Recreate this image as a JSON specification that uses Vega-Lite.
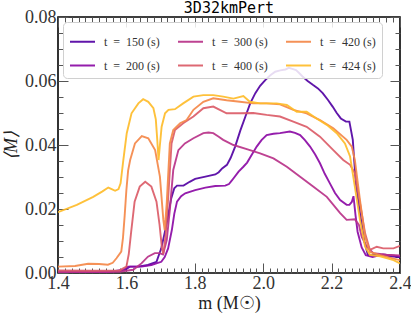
{
  "$schema": "https://vega.github.io/schema/vega-lite/v6.json",
  "width": 342,
  "height": 256,
  "autosize": "none",
  "padding": {"left": 58, "top": 17, "right": 11, "bottom": 42},
  "title": {"text": "3D32kmPert", "font": "DejaVu Sans Mono", "fontSize": 15, "fontWeight": "normal", "offset": -8, "color": "black"},
  "config": {
    "view": {"stroke": "black", "strokeWidth": 1.6},
    "axis": {"domain": false, "grid": false, "tickColor": "#555", "tickWidth": 1}
  },
  "data": {"values": [
    {"t":"150","m":1.40,"v":0.0005},{"t":"150","m":1.50,"v":0.0005},{"t":"150","m":1.58,"v":0.0006},{"t":"150","m":1.595,"v":0.0009},{"t":"150","m":1.61,"v":0.002},{"t":"150","m":1.634,"v":0.002},{"t":"150","m":1.663,"v":0.0025},{"t":"150","m":1.688,"v":0.0035},{"t":"150","m":1.702,"v":0.0077},{"t":"150","m":1.717,"v":0.015},{"t":"150","m":1.731,"v":0.0233},{"t":"150","m":1.740,"v":0.0265},{"t":"150","m":1.748,"v":0.0273},{"t":"150","m":1.767,"v":0.0273},{"t":"150","m":1.785,"v":0.0285},{"t":"150","m":1.801,"v":0.0294},{"t":"150","m":1.831,"v":0.0301},{"t":"150","m":1.860,"v":0.0308},{"t":"150","m":1.870,"v":0.0315},{"t":"150","m":1.880,"v":0.0327},{"t":"150","m":1.894,"v":0.0338},{"t":"150","m":1.905,"v":0.036},{"t":"150","m":1.918,"v":0.0395},{"t":"150","m":1.933,"v":0.0445},{"t":"150","m":1.948,"v":0.0489},{"t":"150","m":1.962,"v":0.053},{"t":"150","m":1.977,"v":0.0562},{"t":"150","m":1.991,"v":0.0585},{"t":"150","m":2.006,"v":0.0603},{"t":"150","m":2.020,"v":0.0617},{"t":"150","m":2.035,"v":0.0629},{"t":"150","m":2.050,"v":0.0633},{"t":"150","m":2.065,"v":0.0636},{"t":"150","m":2.075,"v":0.0641},{"t":"150","m":2.085,"v":0.0638},{"t":"150","m":2.096,"v":0.0634},{"t":"150","m":2.105,"v":0.0625},{"t":"150","m":2.115,"v":0.0614},{"t":"150","m":2.130,"v":0.0600},{"t":"150","m":2.145,"v":0.0588},{"t":"150","m":2.160,"v":0.0577},{"t":"150","m":2.174,"v":0.0562},{"t":"150","m":2.190,"v":0.0540},{"t":"150","m":2.203,"v":0.052},{"t":"150","m":2.215,"v":0.050},{"t":"150","m":2.227,"v":0.0483},{"t":"150","m":2.242,"v":0.0473},{"t":"150","m":2.252,"v":0.0473},{"t":"150","m":2.262,"v":0.0416},{"t":"150","m":2.266,"v":0.0353},{"t":"150","m":2.271,"v":0.028},{"t":"150","m":2.281,"v":0.0202},{"t":"150","m":2.296,"v":0.0098},{"t":"150","m":2.306,"v":0.0056},{"t":"150","m":2.339,"v":0.0058},{"t":"150","m":2.37,"v":0.0052},{"t":"150","m":2.40,"v":0.0050},
    {"t":"200","m":1.40,"v":0.0003},{"t":"200","m":1.55,"v":0.0003},{"t":"200","m":1.59,"v":0.001},{"t":"200","m":1.605,"v":0.002},{"t":"200","m":1.644,"v":0.002},{"t":"200","m":1.673,"v":0.0025},{"t":"200","m":1.702,"v":0.0035},{"t":"200","m":1.712,"v":0.005},{"t":"200","m":1.722,"v":0.0077},{"t":"200","m":1.733,"v":0.0135},{"t":"200","m":1.740,"v":0.0185},{"t":"200","m":1.748,"v":0.0223},{"t":"200","m":1.760,"v":0.024},{"t":"200","m":1.772,"v":0.0249},{"t":"200","m":1.801,"v":0.0259},{"t":"200","m":1.831,"v":0.0267},{"t":"200","m":1.860,"v":0.0272},{"t":"200","m":1.889,"v":0.0273},{"t":"200","m":1.900,"v":0.0278},{"t":"200","m":1.909,"v":0.029},{"t":"200","m":1.928,"v":0.0317},{"t":"200","m":1.942,"v":0.0332},{"t":"200","m":1.953,"v":0.0345},{"t":"200","m":1.967,"v":0.037},{"t":"200","m":1.981,"v":0.0395},{"t":"200","m":1.995,"v":0.0415},{"t":"200","m":2.010,"v":0.0431},{"t":"200","m":2.030,"v":0.0435},{"t":"200","m":2.049,"v":0.0437},{"t":"200","m":2.078,"v":0.0442},{"t":"200","m":2.093,"v":0.0438},{"t":"200","m":2.108,"v":0.0431},{"t":"200","m":2.122,"v":0.0415},{"t":"200","m":2.137,"v":0.0395},{"t":"200","m":2.152,"v":0.037},{"t":"200","m":2.166,"v":0.0343},{"t":"200","m":2.180,"v":0.031},{"t":"200","m":2.195,"v":0.028},{"t":"200","m":2.210,"v":0.025},{"t":"200","m":2.225,"v":0.0228},{"t":"200","m":2.244,"v":0.0213},{"t":"200","m":2.252,"v":0.0213},{"t":"200","m":2.259,"v":0.0222},{"t":"200","m":2.264,"v":0.024},{"t":"200","m":2.270,"v":0.018},{"t":"200","m":2.276,"v":0.0129},{"t":"200","m":2.288,"v":0.008},{"t":"200","m":2.300,"v":0.0056},{"t":"200","m":2.320,"v":0.0050},{"t":"200","m":2.350,"v":0.0058},{"t":"200","m":2.375,"v":0.0055},{"t":"200","m":2.40,"v":0.0052},
    {"t":"300","m":1.40,"v":0.0003},{"t":"300","m":1.58,"v":0.0004},{"t":"300","m":1.62,"v":0.001},{"t":"300","m":1.644,"v":0.003},{"t":"300","m":1.663,"v":0.0051},{"t":"300","m":1.683,"v":0.0062},{"t":"300","m":1.697,"v":0.0062},{"t":"300","m":1.707,"v":0.0058},{"t":"300","m":1.718,"v":0.0103},{"t":"300","m":1.727,"v":0.0197},{"t":"300","m":1.737,"v":0.0322},{"t":"300","m":1.752,"v":0.0384},{"t":"300","m":1.771,"v":0.0405},{"t":"300","m":1.796,"v":0.0421},{"t":"300","m":1.825,"v":0.0437},{"t":"300","m":1.840,"v":0.0439},{"t":"300","m":1.854,"v":0.0437},{"t":"300","m":1.870,"v":0.0426},{"t":"300","m":1.883,"v":0.0416},{"t":"300","m":1.913,"v":0.040},{"t":"300","m":1.952,"v":0.0387},{"t":"300","m":1.991,"v":0.0374},{"t":"300","m":2.030,"v":0.0358},{"t":"300","m":2.069,"v":0.0332},{"t":"300","m":2.108,"v":0.0301},{"t":"300","m":2.146,"v":0.027},{"t":"300","m":2.186,"v":0.0238},{"t":"300","m":2.225,"v":0.0187},{"t":"300","m":2.244,"v":0.0166},{"t":"300","m":2.268,"v":0.0168},{"t":"300","m":2.280,"v":0.015},{"t":"300","m":2.288,"v":0.0113},{"t":"300","m":2.303,"v":0.0082},{"t":"300","m":2.322,"v":0.0062},{"t":"300","m":2.36,"v":0.0057},{"t":"300","m":2.40,"v":0.0055},
    {"t":"400","m":1.40,"v":0.0008},{"t":"400","m":1.50,"v":0.0007},{"t":"400","m":1.58,"v":0.0008},{"t":"400","m":1.60,"v":0.002},{"t":"400","m":1.607,"v":0.006},{"t":"400","m":1.614,"v":0.0129},{"t":"400","m":1.624,"v":0.0223},{"t":"400","m":1.639,"v":0.027},{"t":"400","m":1.655,"v":0.0285},{"t":"400","m":1.673,"v":0.027},{"t":"400","m":1.688,"v":0.0223},{"t":"400","m":1.697,"v":0.015},{"t":"400","m":1.704,"v":0.0077},{"t":"400","m":1.708,"v":0.006},{"t":"400","m":1.715,"v":0.012},{"t":"400","m":1.723,"v":0.0249},{"t":"400","m":1.732,"v":0.0405},{"t":"400","m":1.742,"v":0.0447},{"t":"400","m":1.766,"v":0.0468},{"t":"400","m":1.796,"v":0.0489},{"t":"400","m":1.825,"v":0.0515},{"t":"400","m":1.854,"v":0.052},{"t":"400","m":1.893,"v":0.0499},{"t":"400","m":1.932,"v":0.0499},{"t":"400","m":1.971,"v":0.050},{"t":"400","m":2.010,"v":0.0494},{"t":"400","m":2.049,"v":0.0489},{"t":"400","m":2.088,"v":0.0473},{"t":"400","m":2.127,"v":0.0457},{"t":"400","m":2.166,"v":0.0426},{"t":"400","m":2.205,"v":0.0384},{"t":"400","m":2.234,"v":0.0353},{"t":"400","m":2.254,"v":0.0338},{"t":"400","m":2.268,"v":0.0312},{"t":"400","m":2.283,"v":0.0218},{"t":"400","m":2.298,"v":0.0124},{"t":"400","m":2.312,"v":0.0072},{"t":"400","m":2.332,"v":0.0082},{"t":"400","m":2.351,"v":0.0077},{"t":"400","m":2.381,"v":0.0077},{"t":"400","m":2.40,"v":0.0085},
    {"t":"420","m":1.40,"v":0.002},{"t":"420","m":1.45,"v":0.0022},{"t":"420","m":1.488,"v":0.0029},{"t":"420","m":1.52,"v":0.0028},{"t":"420","m":1.546,"v":0.0026},{"t":"420","m":1.56,"v":0.0032},{"t":"420","m":1.571,"v":0.0046},{"t":"420","m":1.585,"v":0.0067},{"t":"420","m":1.590,"v":0.011},{"t":"420","m":1.595,"v":0.018},{"t":"420","m":1.600,"v":0.026},{"t":"420","m":1.605,"v":0.032},{"t":"420","m":1.611,"v":0.0353},{"t":"420","m":1.625,"v":0.0405},{"t":"420","m":1.645,"v":0.0428},{"t":"420","m":1.664,"v":0.0421},{"t":"420","m":1.684,"v":0.0384},{"t":"420","m":1.698,"v":0.0301},{"t":"420","m":1.708,"v":0.0166},{"t":"420","m":1.712,"v":0.0134},{"t":"420","m":1.718,"v":0.022},{"t":"420","m":1.727,"v":0.0405},{"t":"420","m":1.737,"v":0.0447},{"t":"420","m":1.757,"v":0.0468},{"t":"420","m":1.776,"v":0.0478},{"t":"420","m":1.796,"v":0.051},{"t":"420","m":1.825,"v":0.0535},{"t":"420","m":1.854,"v":0.0546},{"t":"420","m":1.893,"v":0.054},{"t":"420","m":1.932,"v":0.0535},{"t":"420","m":1.971,"v":0.053},{"t":"420","m":2.010,"v":0.053},{"t":"420","m":2.049,"v":0.0527},{"t":"420","m":2.088,"v":0.051},{"t":"420","m":2.127,"v":0.0499},{"t":"420","m":2.166,"v":0.0478},{"t":"420","m":2.205,"v":0.0452},{"t":"420","m":2.244,"v":0.0416},{"t":"420","m":2.259,"v":0.0395},{"t":"420","m":2.268,"v":0.0353},{"t":"420","m":2.283,"v":0.0228},{"t":"420","m":2.298,"v":0.0113},{"t":"420","m":2.312,"v":0.0066},{"t":"420","m":2.342,"v":0.0056},{"t":"420","m":2.381,"v":0.0045},{"t":"420","m":2.40,"v":0.004},
    {"t":"424","m":1.40,"v":0.019},{"t":"424","m":1.455,"v":0.0213},{"t":"424","m":1.503,"v":0.0238},{"t":"424","m":1.530,"v":0.0255},{"t":"424","m":1.547,"v":0.0267},{"t":"424","m":1.557,"v":0.0262},{"t":"424","m":1.567,"v":0.0257},{"t":"424","m":1.577,"v":0.0262},{"t":"424","m":1.583,"v":0.028},{"t":"424","m":1.591,"v":0.0353},{"t":"424","m":1.601,"v":0.0437},{"t":"424","m":1.615,"v":0.0499},{"t":"424","m":1.635,"v":0.053},{"t":"424","m":1.649,"v":0.0543},{"t":"424","m":1.664,"v":0.0535},{"t":"424","m":1.679,"v":0.0515},{"t":"424","m":1.686,"v":0.048},{"t":"424","m":1.690,"v":0.042},{"t":"424","m":1.694,"v":0.0353},{"t":"424","m":1.698,"v":0.040},{"t":"424","m":1.703,"v":0.0457},{"t":"424","m":1.713,"v":0.0499},{"t":"424","m":1.723,"v":0.051},{"t":"424","m":1.742,"v":0.0512},{"t":"424","m":1.766,"v":0.053},{"t":"424","m":1.796,"v":0.0551},{"t":"424","m":1.825,"v":0.0556},{"t":"424","m":1.854,"v":0.0556},{"t":"424","m":1.883,"v":0.0551},{"t":"424","m":1.913,"v":0.0545},{"t":"424","m":1.942,"v":0.0553},{"t":"424","m":1.961,"v":0.0535},{"t":"424","m":1.991,"v":0.053},{"t":"424","m":2.039,"v":0.053},{"t":"424","m":2.069,"v":0.0525},{"t":"424","m":2.098,"v":0.0504},{"t":"424","m":2.127,"v":0.0504},{"t":"424","m":2.156,"v":0.0483},{"t":"424","m":2.186,"v":0.0463},{"t":"424","m":2.215,"v":0.0437},{"t":"424","m":2.239,"v":0.0405},{"t":"424","m":2.254,"v":0.0364},{"t":"424","m":2.268,"v":0.027},{"t":"424","m":2.283,"v":0.0165},{"t":"424","m":2.298,"v":0.0082},{"t":"424","m":2.312,"v":0.0057},{"t":"424","m":2.342,"v":0.0052},{"t":"424","m":2.381,"v":0.004},{"t":"424","m":2.40,"v":0.003}
  ]},
  "layer": [
    {
      "mark": {"type": "line", "strokeWidth": 1.9, "opacity": 0.92, "clip": true},
      "encoding": {
        "x": {"field": "m", "type": "quantitative", "scale": {"domain": [1.4, 2.4], "nice": false, "zero": false},
          "axis": {"orient": "bottom", "values": [1.4, 1.6, 1.8, 2.0, 2.2, 2.4], "format": ".1f", "ticks": false, "labelFont": "Liberation Serif", "labelFontSize": 18, "labelPadding": 1, "labelColor": "#333", "labelFlush": false, "labelOverlap": false, "labelBound": false, "title": "m (M☉)", "titleFont": "Liberation Serif", "titleFontSize": 18, "titleFontWeight": "normal", "titleColor": "#222", "titlePadding": 2}},
        "y": {"field": "v", "type": "quantitative", "scale": {"domain": [0, 0.08], "nice": false, "zero": false},
          "axis": {"orient": "left", "values": [0, 0.02, 0.04, 0.06, 0.08], "format": ".2f", "ticks": false, "labelFont": "Liberation Serif", "labelFontSize": 18, "labelPadding": 2, "labelColor": "#333", "labelFlush": false, "labelOverlap": false, "labelBound": false, "title": "⟨M⟩", "titleFont": "Liberation Serif", "titleFontSize": 18, "titleFontWeight": "normal", "titleFontStyle": "italic", "titleColor": "#222", "titlePadding": 4}},
        "color": {"field": "t", "type": "nominal",
          "scale": {"domain": ["150", "200", "300", "400", "420", "424"], "range": ["#5302a3", "#8b0aa5", "#b83289", "#db5c68", "#f48849", "#febc2a"]},
          "legend": {"orient": "none", "legendX": 5, "legendY": 5, "columns": 3, "title": null, "symbolType": "stroke", "symbolSize": 625, "symbolStrokeWidth": 2, "labelFont": "Liberation Serif", "labelFontSize": 12, "labelColor": "#333", "labelExpr": "'t\u00a0\u00a0=\u00a0\u00a0' + datum.label + '\u00a0(s)'", "columnPadding": 14, "rowPadding": 4, "padding": 6, "strokeColor": "#d0d0d0", "fillColor": "rgba(255,255,255,0.85)", "cornerRadius": 4, "gridAlign": "all", "labelOffset": 8}}
      }
    },
    {
      "mark": {"type": "line", "opacity": 0},
      "encoding": {
        "x": {"field": "m", "type": "quantitative", "scale": {"domain": [1.4, 2.4], "nice": false, "zero": false},
          "axis": {"orient": "bottom", "values": [1.4, 1.6, 1.8, 2.0, 2.2, 2.4], "labels": false, "tickSize": -10, "title": null}},
        "y": {"field": "v", "type": "quantitative", "scale": {"domain": [0, 0.08], "nice": false, "zero": false},
          "axis": {"orient": "left", "values": [0, 0.02, 0.04, 0.06, 0.08], "labels": false, "tickSize": -10, "title": null}}
      }
    },
    {
      "mark": {"type": "line", "opacity": 0},
      "encoding": {
        "x": {"field": "m", "type": "quantitative", "scale": {"domain": [1.4, 2.4], "nice": false, "zero": false},
          "axis": {"orient": "bottom", "values": [1.42,1.44,1.46,1.48,1.5,1.52,1.54,1.56,1.58,1.62,1.64,1.66,1.68,1.7,1.72,1.74,1.76,1.78,1.82,1.84,1.86,1.88,1.9,1.92,1.94,1.96,1.98,2.02,2.04,2.06,2.08,2.1,2.12,2.14,2.16,2.18,2.22,2.24,2.26,2.28,2.3,2.32,2.34,2.36,2.38], "labels": false, "tickSize": -5, "title": null}},
        "y": {"field": "v", "type": "quantitative", "scale": {"domain": [0, 0.08], "nice": false, "zero": false},
          "axis": {"orient": "left", "values": [0.005,0.01,0.015,0.025,0.03,0.035,0.045,0.05,0.055,0.065,0.07,0.075], "labels": false, "tickSize": -5, "title": null}}
      }
    },
    {
      "mark": {"type": "line", "opacity": 0},
      "encoding": {
        "x": {"field": "m", "type": "quantitative", "scale": {"domain": [1.4, 2.4], "nice": false, "zero": false},
          "axis": {"orient": "top", "values": [1.4, 1.6, 1.8, 2.0, 2.2, 2.4], "labels": false, "tickSize": -10, "title": null}},
        "y": {"field": "v", "type": "quantitative", "scale": {"domain": [0, 0.08], "nice": false, "zero": false},
          "axis": {"orient": "right", "values": [0, 0.02, 0.04, 0.06, 0.08], "labels": false, "tickSize": -10, "title": null}}
      }
    },
    {
      "mark": {"type": "line", "opacity": 0},
      "encoding": {
        "x": {"field": "m", "type": "quantitative", "scale": {"domain": [1.4, 2.4], "nice": false, "zero": false},
          "axis": {"orient": "top", "values": [1.42,1.44,1.46,1.48,1.5,1.52,1.54,1.56,1.58,1.62,1.64,1.66,1.68,1.7,1.72,1.74,1.76,1.78,1.82,1.84,1.86,1.88,1.9,1.92,1.94,1.96,1.98,2.02,2.04,2.06,2.08,2.1,2.12,2.14,2.16,2.18,2.22,2.24,2.26,2.28,2.3,2.32,2.34,2.36,2.38], "labels": false, "tickSize": -5, "title": null}},
        "y": {"field": "v", "type": "quantitative", "scale": {"domain": [0, 0.08], "nice": false, "zero": false},
          "axis": {"orient": "right", "values": [0.005,0.01,0.015,0.025,0.03,0.035,0.045,0.05,0.055,0.065,0.07,0.075], "labels": false, "tickSize": -5, "title": null}}
      }
    }
  ],
  "resolve": {"axis": {"x": "independent", "y": "independent"}}
}
